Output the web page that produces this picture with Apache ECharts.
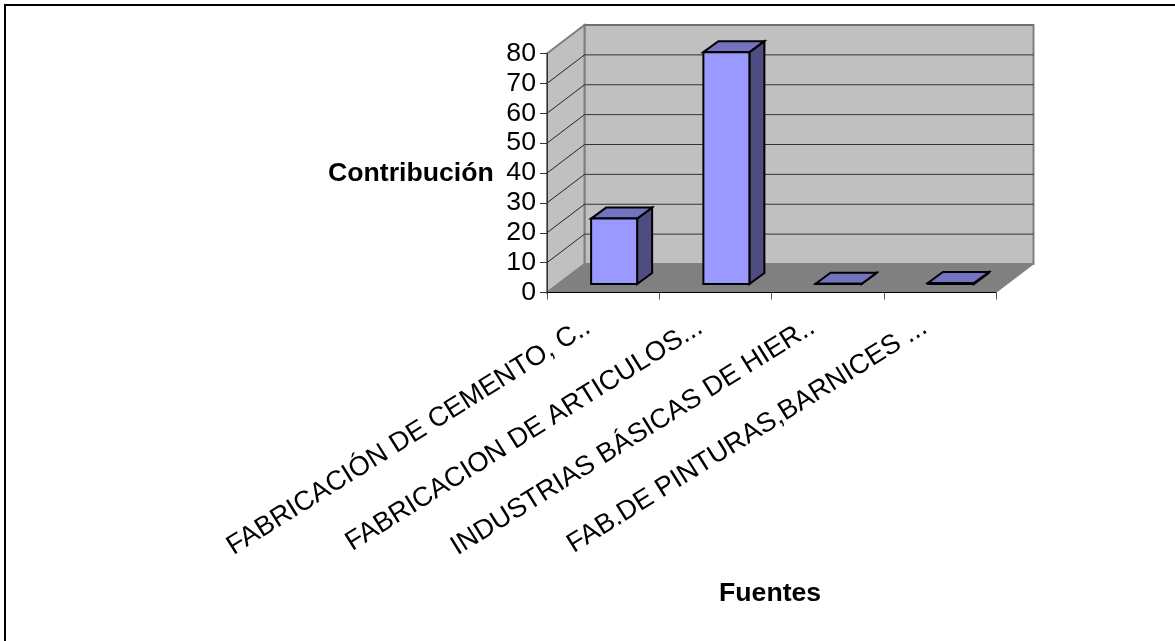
<!DOCTYPE html>
<html>
<head>
<meta charset="utf-8">
<style>html,body{margin:0;padding:0;background:#fff}#c{width:1175px;height:641px}</style>
<script src="https://cdn.jsdelivr.net/npm/echarts@6/dist/echarts.min.js"></script>
</head>
<body>
<div id="c"></div>
<script>
const categories = ["FABRICACIÓN DE CEMENTO, C..", "FABRICACION DE ARTICULOS...", "INDUSTRIAS BÁSICAS DE HIER..", "FAB.DE PINTURAS,BARNICES ..."];
const values = [21.9, 77.6, 0.1, 0.35];
const yTicks = [0, 10, 20, 30, 40, 50, 60, 70, 80];
const yAxisTitle = "Contribución";
const xAxisTitle = "Fuentes";

const FONT = '"Liberation Sans", Arial, sans-serif';
const FONT_SIZE = 26.67;
const WALL_DX = 37.5, WALL_DY = -28.5;   // depth of the 3D box
const BAR_DX = 15, BAR_DY = -11;         // depth of each column
const BAR_OFF_X = 11, BAR_OFF_Y = -8.5;  // column's position inside the box
const BAR_WIDTH = 46;

function poly(points, fill, stroke, lw, z2) {
  return {type: 'polygon', z2: z2 || 0, shape: {points}, style: {fill, stroke: stroke || 'none', lineWidth: lw || 0, lineJoin: 'miter'}};
}
function line(a, b, stroke, lw, z2) {
  return {type: 'line', z2: z2 || 0, shape: {x1: a[0], y1: a[1], x2: b[0], y2: b[1]}, style: {stroke, lineWidth: lw}};
}

function renderBox(params, api) {
  if (params.dataIndex !== 0) return {type: 'group', children: []};
  const top = yTicks[yTicks.length - 1];
  const n = categories.length;
  const half = api.size([1, 0])[0] / 2;
  const x0 = api.coord([0, 0])[0] - half, x1 = api.coord([n - 1, 0])[0] + half;
  const y0 = api.coord([0, 0])[1], yT = api.coord([0, top])[1];
  const d = (p) => [p[0] + WALL_DX, p[1] + WALL_DY];
  const kids = [];
  kids.push(poly([d([x0, yT]), d([x1, yT]), d([x1, y0]), d([x0, y0])], '#c0c0c0', '#808080', 2));
  kids.push(poly([[x0, yT], d([x0, yT]), d([x0, y0]), [x0, y0]], '#c0c0c0', '#808080', 2));
  kids.push(poly([[x0, y0], [x1, y0], d([x1, y0]), d([x0, y0])], '#808080', '#808080', 1));
  yTicks.forEach((t, i) => {
    if (i === 0) return;
    const y = api.coord([0, t])[1];
    const c = i === yTicks.length - 1 ? '#606060' : '#333333';
    kids.push(line([x0, y], d([x0, y]), i === yTicks.length - 1 ? '#808080' : '#222222', 1, 2));
    kids.push(line(d([x0, y]), d([x1, y]), c, 1, 2));
  });
  return {type: 'group', children: kids};
}

function renderBar(params, api) {
  const idx = api.value(0), val = api.value(1);
  const base = api.coord([idx, 0]), topP = api.coord([idx, val]);
  const l = base[0] + BAR_OFF_X - BAR_WIDTH / 2, r = l + BAR_WIDTH;
  const yb = base[1] + BAR_OFF_Y, yt = topP[1] + BAR_OFF_Y;
  const s = '#000000', lw = 2;
  return {type: 'group', children: [
    poly([[r, yt], [r + BAR_DX, yt + BAR_DY], [r + BAR_DX, yb + BAR_DY], [r, yb]], '#4d4d80', s, lw),
    poly([[l, yt], [l + BAR_DX, yt + BAR_DY], [r + BAR_DX, yt + BAR_DY], [r, yt]], '#7373bf', s, lw),
    poly([[l, yt], [r, yt], [r, yb], [l, yb]], '#9999ff', s, lw)
  ]};
}

const chart = echarts.init(document.getElementById('c'), null, {renderer: 'canvas'});
chart.setOption({
  animation: false,
  backgroundColor: '#ffffff',
  textStyle: {fontFamily: FONT},
  grid: {left: 547, top: 53.5, width: 449, height: 239, containLabel: false},
  xAxis: {
    type: 'category', data: categories, boundaryGap: true, z: 5,
    axisLine: {show: true, lineStyle: {color: '#000000', width: 1}},
    axisTick: {show: true, length: 7, alignWithLabel: false, lineStyle: {color: '#555555', width: 1}},
    axisLabel: {interval: 0, rotate: 32, margin: 23, padding: [0, 18, 0, 0], color: '#000000', fontFamily: FONT, fontSize: 27.2, hideOverlap: false},
    splitLine: {show: false}
  },
  yAxis: {
    type: 'value', min: 0, max: 80, interval: 10, z: 5,
    axisLine: {show: true, lineStyle: {color: '#333333', width: 1}},
    axisTick: {show: true, length: 7, lineStyle: {color: '#333333', width: 1}},
    axisLabel: {margin: 11, color: '#000000', fontFamily: FONT, fontSize: FONT_SIZE},
    splitLine: {show: false}
  },
  series: [
    {type: 'custom', name: 'box', renderItem: renderBox, data: categories.map((c, i) => [i, 0]), encode: {x: 0, y: 1}, z: 1, silent: true},
    {type: 'custom', name: 'Contribución', renderItem: renderBar, data: categories.map((c, i) => [i, values[i]]), encode: {x: 0, y: 1}, z: 3}
  ],
  graphic: [
    {type: 'rect', left: 4, top: 4, shape: {width: 1171, height: 2}, style: {fill: '#000'}, silent: true},
    {type: 'rect', left: 4, top: 4, shape: {width: 2, height: 637}, style: {fill: '#000'}, silent: true},
    {type: 'text', left: 328, top: 160, style: {text: yAxisTitle, fill: '#000', font: 'bold ' + FONT_SIZE + 'px ' + FONT}},
    {type: 'text', left: 719, top: 580, style: {text: xAxisTitle, fill: '#000', font: 'bold ' + FONT_SIZE + 'px ' + FONT}}
  ]
});
</script>
</body>
</html>
